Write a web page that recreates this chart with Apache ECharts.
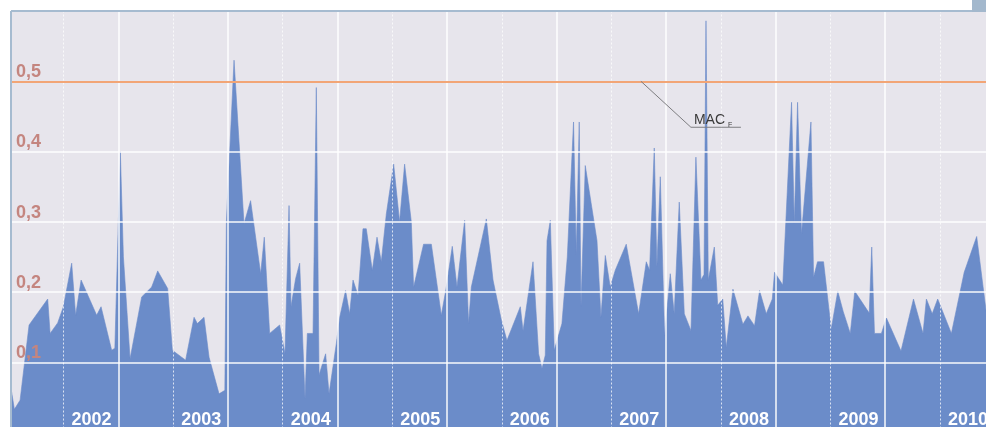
<!DOCTYPE html>
<html><head><meta charset="utf-8">
<script src="https://cdn.jsdelivr.net/npm/echarts@6/dist/echarts.min.js"></script>
<style>html,body{margin:0;padding:0;background:#fff}#c{width:986px;height:427px}</style>
</head><body><div id="c"></div>
<script>
// decimal-year positions of the samples
const sampleYears = [
2002.023,2002.051,2002.103,2002.185,2002.355,2002.377,2002.446,2002.498,2002.574,2002.610,
2002.660,2002.802,2002.842,2002.939,2002.968,2002.991,2003.018,2003.046,2003.107,2003.213,
2003.304,2003.359,2003.450,2003.493,2003.614,2003.691,2003.721,2003.782,2003.828,2003.919,
2003.972,2003.986,2004.056,2004.147,2004.207,2004.299,2004.332,2004.381,2004.472,2004.521,
2004.558,2004.576,2004.618,2004.655,2004.704,2004.725,2004.777,2004.807,2004.832,2004.892,
2004.923,2004.990,2005.022,2005.074,2005.111,2005.142,2005.188,2005.233,2005.263,2005.318,
2005.361,2005.400,2005.446,2005.513,2005.567,2005.613,2005.674,2005.695,2005.786,2005.857,
2005.948,2005.994,2006.048,2006.091,2006.161,2006.197,2006.222,2006.359,2006.420,2006.496,
2006.547,2006.669,2006.694,2006.785,2006.836,2006.867,2006.897,2006.913,2006.943,2006.979,
2007.049,2007.098,2007.155,2007.180,2007.207,2007.223,2007.262,2007.369,2007.405,2007.445,
2007.490,2007.536,2007.636,2007.749,2007.819,2007.849,2007.892,2007.916,2007.947,2007.986,
2008.038,2008.074,2008.120,2008.166,2008.227,2008.272,2008.318,2008.346,2008.364,2008.385,
2008.440,2008.471,2008.517,2008.549,2008.610,2008.701,2008.747,2008.807,2008.853,2008.914,
2008.969,2008.990,2009.065,2009.145,2009.170,2009.200,2009.236,2009.322,2009.346,2009.382,
2009.437,2009.507,2009.567,2009.617,2009.681,2009.722,2009.854,2009.877,2009.902,2009.965,
2010.011,2010.144,2010.258,2010.345,2010.376,2010.429,2010.479,2010.604,2010.721,2010.835,
2010.922
];
// measured values
const sampleValues = [
0.060,0.033,0.046,0.153,0.190,0.141,0.156,0.179,0.241,0.167,
0.217,0.167,0.179,0.117,0.120,0.250,0.400,0.250,0.105,0.193,
0.207,0.230,0.205,0.117,0.103,0.164,0.155,0.164,0.107,0.055,
0.060,0.300,0.530,0.297,0.330,0.226,0.278,0.141,0.153,0.112,
0.323,0.179,0.219,0.241,0.048,0.141,0.141,0.491,0.082,0.112,
0.055,0.127,0.165,0.202,0.169,0.217,0.195,0.290,0.290,0.231,
0.278,0.243,0.311,0.382,0.300,0.382,0.300,0.207,0.268,0.268,
0.167,0.207,0.265,0.207,0.302,0.155,0.207,0.304,0.217,0.160,
0.131,0.179,0.145,0.243,0.112,0.091,0.110,0.273,0.302,0.117,
0.155,0.250,0.442,0.254,0.442,0.179,0.380,0.273,0.164,0.252,
0.207,0.231,0.268,0.169,0.243,0.231,0.405,0.236,0.364,0.138,
0.226,0.169,0.328,0.169,0.145,0.392,0.217,0.225,0.586,0.217,
0.264,0.181,0.190,0.121,0.204,0.154,0.166,0.152,0.202,0.169,
0.190,0.228,0.210,0.470,0.297,0.470,0.283,0.442,0.221,0.243,
0.243,0.147,0.201,0.172,0.141,0.201,0.170,0.264,0.141,0.141,
0.163,0.116,0.190,0.141,0.190,0.169,0.190,0.141,0.228,0.279,
0.172
];
const yearBoundaries = [2003,2004,2005,2006,2007,2008,2009,2010];
const halfYears = [2002.5,2003.5,2004.5,2005.5,2006.5,2007.5,2008.5,2009.5,2010.5];
const yearLabels = ['2002','2003','2004','2005','2006','2007','2008','2009','2010'];
const yTicks = [0.1,0.2,0.3,0.4,0.5];
const yTickLabels = ['0,1','0,2','0,3','0,4','0,5'];
const macLevel = 0.5;
const macLabel = 'MAC';
const macSub = 'F';
const macAnchor = [2007.77, 0.5];

const FONT = '"Liberation Sans", Arial, sans-serif';
const chart = echarts.init(document.getElementById('c'), null, {renderer:'canvas'});

const markData = [];
yearBoundaries.forEach(y => markData.push({xAxis:y, lineStyle:{color:'rgba(255,255,255,0.95)', width:1.5, type:'solid'}}));
halfYears.forEach(y => markData.push({xAxis:y, lineStyle:{color:'rgba(255,255,255,0.75)', width:1, type:[2,2]}}));
markData.push({yAxis:macLevel, lineStyle:{color:'#f2a576', width:2, type:'solid'}});

chart.setOption({
  animation:false,
  backgroundColor:'#ffffff',
  grid:{left:11,right:0,top:11,height:421.5,show:true,outerBoundsMode:'none',containLabel:false,
    backgroundColor:'#e7e5ec',borderWidth:0},
  xAxis:{type:'value',min:2002.02,max:2010.92,z:3,
    axisLine:{show:false},axisTick:{show:false,customValues:halfYears},splitLine:{show:false},
    axisLabel:{inside:true,customValues:halfYears,hideOverlap:false,
      formatter:v=>{const i=halfYears.findIndex(h=>Math.abs(h-v)<1e-6);return i>=0?yearLabels[i]:'';},
      color:'#ffffff',fontWeight:'bold',fontSize:18,fontFamily:FONT,align:'left',padding:[0,0,0,8],margin:3}},
  yAxis:{type:'value',min:0,max:0.6,interval:0.1,z:3,
    axisLine:{show:false},axisTick:{show:false},
    splitLine:{show:true,showMinLine:false,showMaxLine:false,lineStyle:{color:'rgba(255,255,255,0.95)',width:1.5}},
    axisLabel:{inside:true,margin:5,verticalAlign:'bottom',showMinLabel:false,showMaxLabel:false,
      color:'#c4857f',fontWeight:'bold',fontSize:18,fontFamily:FONT,
      formatter:v=>{const i=yTicks.findIndex(t=>Math.abs(t-v)<1e-6);return i>=0?yTickLabels[i]:'';}}},
  series:[{
    type:'line',
    data:sampleYears.map((y,i)=>[y,sampleValues[i]]),
    showSymbol:false,symbol:'none',
    lineStyle:{width:0.6,color:'#6b8cc9'},
    areaStyle:{color:'#6b8cc9',opacity:1},
    z:2,
    markLine:{silent:true,symbol:'none',label:{show:false},z:5,data:markData}
  }]
});

const p = chart.convertToPixel({gridIndex:0}, macAnchor);
chart.setOption({graphic:[
  {type:'line',shape:{x1:11,y1:11,x2:986,y2:11},style:{stroke:'#a6bbd0',lineWidth:2},z:10},
  {type:'line',shape:{x1:11,y1:11,x2:11,y2:427},style:{stroke:'#a6bbd0',lineWidth:2},z:10},
  {type:'rect',shape:{x:972,y:0,width:14,height:12},style:{fill:'#a3b8cd'},z:10},
  {type:'polyline',shape:{points:[[p[0],p[1]],[p[0]+50,p[1]+46],[p[0]+100,p[1]+46]]},
    style:{stroke:'#7d7d80',lineWidth:1,fill:null},z:10},
  {type:'text',x:p[0]+53,y:p[1]+46,style:{text:macLabel,font:'14px '+FONT,fill:'#3a3a3a',textVerticalAlign:'bottom'},z:10},
  {type:'text',x:p[0]+87,y:p[1]+47,style:{text:macSub,font:'7px '+FONT,fill:'#3a3a3a',textVerticalAlign:'bottom'},z:10}
]});
</script></body></html>
